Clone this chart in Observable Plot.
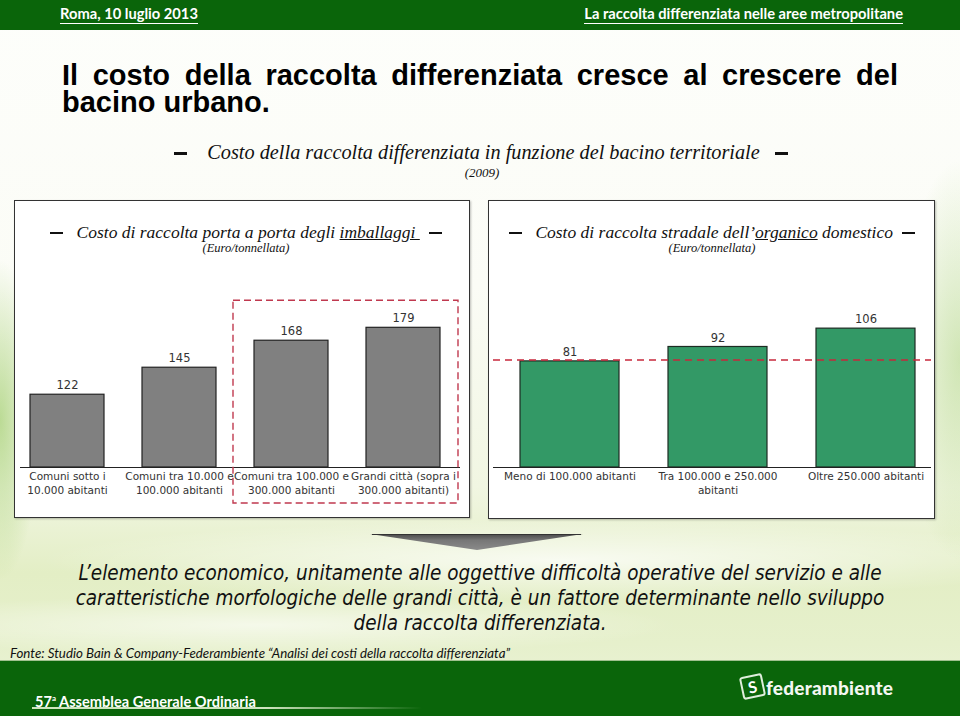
<!DOCTYPE html>
<html><head><meta charset="utf-8">
<script src="https://cdn.jsdelivr.net/npm/d3@7"></script>
<script src="https://cdn.jsdelivr.net/npm/@observablehq/plot@0.6"></script>
<style>
html,body{margin:0;padding:0;}
body{width:960px;height:716px;position:relative;overflow:hidden;
 background:
  radial-gradient(ellipse 40px 160px at 0px 420px, rgba(140,195,80,0.55), rgba(140,195,80,0) 100%),
  radial-gradient(ellipse 60px 200px at 960px 360px, rgba(160,205,110,0.45), rgba(160,205,110,0) 100%),
  radial-gradient(ellipse 520px 40px at 560px 560px, rgba(255,255,255,0.75), rgba(255,255,255,0) 100%),
  radial-gradient(ellipse 420px 30px at 260px 625px, rgba(255,255,255,0.6), rgba(255,255,255,0) 100%),
  linear-gradient(180deg,#fdfefb 0%,#fbfcf6 40%,#f1f6e2 68%,#e3eec5 80%,#e6f0cc 90%,#edf4db 100%);
 font-family:"Liberation Sans",Arial,sans-serif;}
.abs{position:absolute;}
.bar{position:absolute;left:0;width:960px;background:#0a650a;}
.top-t{position:absolute;top:5px;color:#fff;font:700 14.7px Lato,sans-serif;line-height:17px;border-bottom:1.5px solid #fff;padding-bottom:1px;white-space:nowrap;}
.title{position:absolute;left:62px;width:836px;font:700 29px "Liberation Sans",Arial,sans-serif;color:#000;line-height:27px;text-align:justify;}
.serif{font-family:"Liberation Serif","DejaVu Serif",serif;font-style:italic;color:#111;}
.dash{display:inline-block;width:13px;height:2.5px;background:#111;vertical-align:middle;position:relative;top:-1px;}
.panel{position:absolute;background:#fff;border:1.5px solid #333;box-shadow:1px 1px 2px rgba(0,0,0,0.25);}
.center{text-align:center;white-space:nowrap;}
.para{position:absolute;left:0;width:960px;text-align:center;font-family:"Liberation Sans Narrow","DejaVu Sans Condensed",sans-serif;font-style:italic;font-size:20.5px;line-height:25px;color:#111;white-space:nowrap;}
</style></head><body>

<div class="bar" style="top:0;height:30px;"></div>
<div class="top-t" style="left:60px;">Roma, 10 luglio 2013</div>
<div class="top-t" style="right:57px;">La raccolta differenziata nelle aree metropolitane</div>

<div class="title" style="top:62px;">Il costo della raccolta differenziata cresce al crescere del bacino urbano.</div>

<div class="abs serif center" style="left:0;width:962px;top:140px;font-size:20.3px;line-height:25px;"><span class="dash"></span>&nbsp;&nbsp;&nbsp; Costo della raccolta differenziata in funzione del bacino territoriale &nbsp;&nbsp;<span class="dash"></span></div>
<div class="abs serif center" style="left:0;width:964px;top:165px;font-size:13px;line-height:16px;">(2009)</div>

<div class="panel" style="left:14px;top:200px;width:454px;height:316px;"></div>
<div class="panel" style="left:488px;top:200px;width:445px;height:317px;"></div>

<div class="abs serif center" style="left:0;width:492px;top:221px;font-size:17.5px;line-height:22px;"><span class="dash"></span>&nbsp;&nbsp; Costo di raccolta porta a porta degli <u>imballaggi&nbsp;</u>&nbsp;&nbsp;<span class="dash"></span></div>
<div class="abs serif center" style="left:0;width:492px;top:241px;font-size:12.5px;line-height:15px;">(Euro/tonnellata)</div>
<div class="abs serif center" style="left:488px;width:448px;top:221px;font-size:17.5px;line-height:22px;"><span class="dash"></span>&nbsp;&nbsp; Costo di raccolta stradale dell’<u>organico</u> domestico &nbsp;<span class="dash"></span></div>
<div class="abs serif center" style="left:488px;width:448px;top:241px;font-size:12.5px;line-height:15px;">(Euro/tonnellata)</div>

<div id="left" class="abs" style="left:15px;top:290px;"></div>
<div id="right" class="abs" style="left:490px;top:290px;"></div>

<svg class="abs" style="left:0;top:0;" width="960" height="716">
 <defs><linearGradient id="ag" x1="0" y1="0" x2="0" y2="1"><stop offset="0" stop-color="#4a4a4a"/><stop offset="0.4" stop-color="#777"/><stop offset="1" stop-color="#8a8a8a"/></linearGradient></defs>
 <polygon points="370,534 583,534 477,550" fill="url(#ag)"/>
 <line x1="372" y1="534.5" x2="581" y2="534.5" stroke="#333" stroke-width="1.2"/>
</svg>

<div class="para" style="top:561px;">L’elemento economico, unitamente alle oggettive difficoltà operative del servizio e alle</div>
<div class="para" style="top:586px;">caratteristiche morfologiche delle grandi città, è un fattore determinante nello sviluppo</div>
<div class="para" style="top:611px;">della raccolta differenziata.</div>

<div class="abs" style="left:10px;top:646px;font:italic 13.3px Lato,sans-serif;line-height:15px;color:#111;white-space:nowrap;">Fonte: Studio Bain &amp; Company-Federambiente “Analisi dei costi della raccolta differenziata”</div>

<div class="bar" style="top:660px;height:56px;border-top:1px solid #9fc08f;"></div>
<div class="abs" style="left:35px;top:689px;color:#fff;font:700 14.6px Lato,sans-serif;line-height:18px;white-space:nowrap;">57<sup style="font-size:8px;vertical-align:6px;">a</sup> Assemblea Generale Ordinaria</div>
<div class="abs" style="left:32px;top:707px;width:390px;height:1.5px;background:linear-gradient(90deg,#cfe4bf,#cfe4bf 60%,rgba(207,228,191,0));"></div>
<div class="abs" style="left:741px;top:675px;width:19px;height:19px;border:2px solid #dfeedd;border-radius:3px;transform:rotate(-12deg);color:#fff;font:700 16px Lato,sans-serif;line-height:19px;text-align:center;">S</div>
<div class="abs" style="left:766px;top:677px;color:#f4f7f2;font:900 19px Lato,sans-serif;line-height:22px;letter-spacing:0.2px;white-space:nowrap;">federambiente</div>

<script>
// ---- data ----
const leftCategories = ["Comuni sotto i\n10.000 abitanti", "Comuni tra 10.000 e\n100.000 abitanti", "Comuni tra 100.000 e\n300.000 abitanti", "Grandi città (sopra i\n300.000 abitanti)"];
const leftValues = [122, 145, 168, 179];
const leftHighlighted = ["Comuni tra 100.000 e\n300.000 abitanti", "Grandi città (sopra i\n300.000 abitanti)"];

const rightCategories = ["Meno di 100.000 abitanti", "Tra 100.000 e 250.000\nabitanti", "Oltre 250.000 abitanti"];
const rightValues = [81, 92, 106];
const rightReference = [82];

const leftData = leftCategories.map((c, i) => ({cat: c, value: leftValues[i]}));
const rightData = rightCategories.map((c, i) => ({cat: c, value: rightValues[i]}));

const valueFont = {fontFamily: "DejaVu Sans, sans-serif", fontSize: 11.5, fill: "#333"};
const tickFont = {fontFamily: "DejaVu Sans, sans-serif", fontSize: 10.5, fill: "#333", lineHeight: 1.33};

// dashed highlight box around the two largest classes (computed from the scales)
function highlightBox(index, scales, values, dimensions) {
  const x = scales.x, y = scales.y;
  const bw = typeof x.bandwidth === "function" ? x.bandwidth() : x.bandwidth;
  const step = typeof x.step === "function" ? x.step() : x.step;
  const gap = step - bw;
  const x1 = x(leftHighlighted[0]) - gap / 2 - 2;
  const x2 = x(leftHighlighted[leftHighlighted.length - 1]) + bw + gap / 2 - 1;
  const yTop = y(d3.max(leftValues)) - 27;
  const yBot = y(y.domain()[0]) + 36;
  const r = d3.create("svg:rect")
    .attr("x", x1).attr("y", yTop).attr("width", x2 - x1).attr("height", yBot - yTop)
    .attr("fill", "none").attr("stroke", "#c0394f").attr("stroke-width", 1.4)
    .attr("stroke-dasharray", "7,4");
  return r.node();
}

const left = Plot.plot({
  width: 454, height: 226,
  marginLeft: 5, marginRight: 9, marginTop: 0, marginBottom: 0,
  style: {background: "transparent", overflow: "visible"},
  x: {domain: leftCategories, paddingInner: 0.335, paddingOuter: 0.12, align: 0.33, axis: null},
  y: {domain: [60, 190], range: [177, 24.4], axis: null},
  marks: [
    Plot.barY(leftData, {x: "cat", y1: 60, y2: "value", fill: "#808080", stroke: "#222", strokeWidth: 1.2}),
    Plot.ruleY([60], {stroke: "#222", strokeWidth: 1.2}),
    Plot.text(leftData, {x: "cat", y: "value", text: d => String(d.value), dy: -9, ...valueFont}),
    Plot.text(leftCategories, {x: d => d, y: () => 60, text: d => d, lineAnchor: "top", dy: 3, ...tickFont}),
    highlightBox
  ]
});
document.getElementById("left").appendChild(left);

const right = Plot.plot({
  width: 444, height: 226,
  marginLeft: 3, marginRight: 3, marginTop: 0, marginBottom: 0,
  style: {background: "transparent", overflow: "visible"},
  x: {domain: rightCategories, paddingInner: 0.33, paddingOuter: 0.144, align: 0.62, axis: null},
  y: {domain: [0, 130], range: [177, 6.7], axis: null},
  marks: [
    Plot.barY(rightData, {x: "cat", y1: 0, y2: "value", fill: "#339966", stroke: "#1d2b22", strokeWidth: 1.2}),
    Plot.ruleY([0], {stroke: "#222", strokeWidth: 1.2}),
    Plot.ruleY(rightReference, {stroke: "#c8283c", strokeWidth: 1.5, strokeDasharray: "7,5"}),
    Plot.text(rightData, {x: "cat", y: "value", text: d => String(d.value), dy: -9, ...valueFont}),
    Plot.text(rightCategories, {x: d => d, y: () => 0, text: d => d, lineAnchor: "top", dy: 3, ...tickFont})
  ]
});
document.getElementById("right").appendChild(right);
</script>
</body></html>
